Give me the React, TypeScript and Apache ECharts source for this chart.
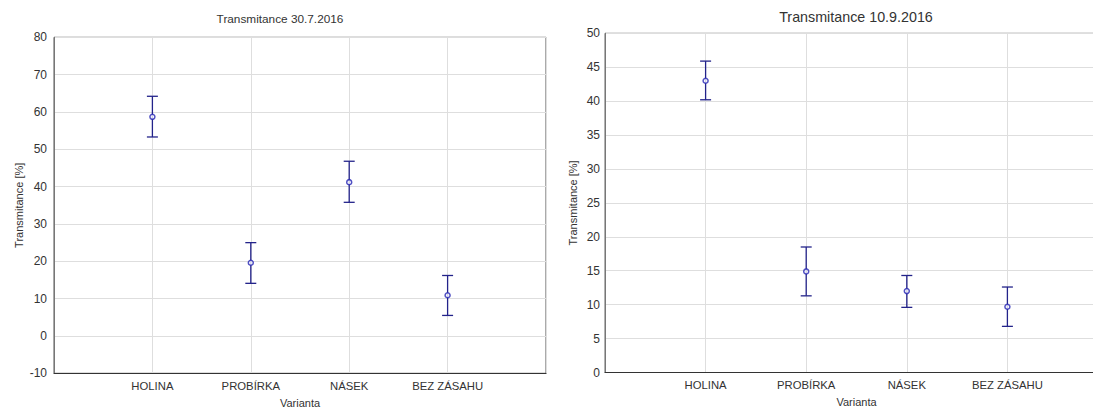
import React, { useEffect, useRef } from "react";
import * as echarts from "echarts";

const categories = ["HOLINA", "PROBÍRKA", "NÁSEK", "BEZ ZÁSAHU"];
const julyMean = [58.7, 19.6, 41.2, 10.9];
const julyLow = [53.3, 14.1, 35.8, 5.5];
const julyHigh = [64.2, 25.0, 46.8, 16.2];
const septMean = [43.0, 14.9, 12.0, 9.7];
const septLow = [40.2, 11.3, 9.6, 6.8];
const septHigh = [45.9, 18.5, 14.3, 12.6];
const julyTitle = "Transmitance 30.7.2016";
const septTitle = "Transmitance 10.9.2016";
const yName = "Transmitance [%]";
const xName = "Varianta";

const FONT = "'Liberation Sans', Arial, sans-serif";
const BAR_COLOR = "#23238a";
const MARK_COLOR = "#2424b4";
const GRID_COLOR = "#dedede";
const TEXT_COLOR = "#333";

const axisCats = ["", ...categories, ""];

function errData(mean: number[], low: number[], high: number[]) {
  return mean.map((m, i) => [i + 1, m, low[i], high[i]]);
}
function ptData(mean: number[]) {
  return mean.map((m, i) => [i + 1, m]);
}

const renderErr = (params: any, api: any) => {
  const x = api.value(0);
  const lo = api.coord([x, api.value(2)]);
  const hi = api.coord([x, api.value(3)]);
  const hw = 5.5;
  const style = { stroke: BAR_COLOR, lineWidth: 1.3, fill: "none" };
  return {
    type: "group",
    children: [
      { type: "line", shape: { x1: hi[0], y1: hi[1], x2: lo[0], y2: lo[1] }, style },
      { type: "line", shape: { x1: hi[0] - hw, y1: hi[1], x2: hi[0] + hw, y2: hi[1] }, style },
      { type: "line", shape: { x1: lo[0] - hw, y1: lo[1], x2: lo[0] + hw, y2: lo[1] }, style },
    ],
  };
};

function xAxisFor(gridIndex: number) {
  return {
    type: "category",
    gridIndex,
    data: axisCats,
    boundaryGap: false,
    axisLine: { show: true, onZero: false, lineStyle: { color: "#333" } },
    axisTick: { show: false },
    axisLabel: { color: TEXT_COLOR, fontSize: 11.3, fontFamily: FONT, margin: 7, interval: 0 },
    splitLine: { show: true, lineStyle: { color: GRID_COLOR } },
    name: xName,
    nameLocation: "middle",
    nameGap: 24,
    nameTextStyle: { color: TEXT_COLOR, fontSize: 11, fontFamily: FONT },
  };
}

function yAxisFor(gridIndex: number, min: number, max: number, interval: number, nameGap: number, margin: number) {
  return {
    type: "value",
    gridIndex,
    min,
    max,
    interval,
    axisLine: { show: true, onZero: false, lineStyle: { color: "#777" } },
    axisTick: { show: false },
    axisLabel: { color: TEXT_COLOR, fontSize: 12, fontFamily: FONT, margin },
    splitLine: { show: true, lineStyle: { color: GRID_COLOR } },
    name: yName,
    nameLocation: "middle",
    nameGap,
    nameTextStyle: { color: TEXT_COLOR, fontSize: 11, fontFamily: FONT },
  };
}

const W = 1110;

export default function App() {
  const ref = useRef<HTMLDivElement>(null);
  useEffect(() => {
    if (!ref.current) return;
    const chart = echarts.init(ref.current, null, { renderer: "svg" });
    chart.setOption({
      animation: false,
      backgroundColor: "#fff",
      graphic: [
        {
          type: "text",
          x: 280,
          y: 19,
          style: { text: julyTitle, fontSize: 11.8, fontFamily: FONT, fill: TEXT_COLOR, textAlign: "center", textVerticalAlign: "middle" },
        },
        {
          type: "text",
          x: 856,
          y: 17,
          style: { text: septTitle, fontSize: 14.3, fontFamily: FONT, fill: TEXT_COLOR, textAlign: "center", textVerticalAlign: "middle" },
        },
      ],
      grid: [
        { left: 54, right: W - 546, top: 37.3, bottom: 36.7, show: true, borderColor: "#555", borderWidth: 1, backgroundColor: "transparent", outerBoundsMode: "none", containLabel: false },
        { left: 605, right: W - 1108, top: 33.3, bottom: 37.5, show: true, borderColor: "#666", borderWidth: 1, backgroundColor: "transparent", outerBoundsMode: "none", containLabel: false },
      ],
      xAxis: [xAxisFor(0), xAxisFor(1)],
      yAxis: [yAxisFor(0, -10, 80, 10, 30, 7), yAxisFor(1, 0, 50, 5, 27, 5)],
      series: [
        {
          type: "custom",
          xAxisIndex: 0,
          yAxisIndex: 0,
          renderItem: renderErr,
          encode: { x: 0, y: [1, 2, 3] },
          data: errData(julyMean, julyLow, julyHigh),
          z: 3,
        },
        {
          type: "scatter",
          xAxisIndex: 0,
          yAxisIndex: 0,
          symbol: "circle",
          symbolSize: 5,
          itemStyle: { color: "#fff", borderColor: MARK_COLOR, borderWidth: 1.5 },
          data: ptData(julyMean),
          z: 4,
        },
        {
          type: "custom",
          xAxisIndex: 1,
          yAxisIndex: 1,
          renderItem: renderErr,
          encode: { x: 0, y: [1, 2, 3] },
          data: errData(septMean, septLow, septHigh),
          z: 3,
        },
        {
          type: "scatter",
          xAxisIndex: 1,
          yAxisIndex: 1,
          symbol: "circle",
          symbolSize: 5,
          itemStyle: { color: "#fff", borderColor: MARK_COLOR, borderWidth: 1.5 },
          data: ptData(septMean),
          z: 4,
        },
      ],
    });
    return () => chart.dispose();
  }, []);
  return (
    <div style={{ position: "fixed", left: 0, top: 0, width: 1093, height: 410, overflow: "hidden", background: "#fff" }}>
      <div ref={ref} style={{ width: W, height: 410 }} />
    </div>
  );
}
